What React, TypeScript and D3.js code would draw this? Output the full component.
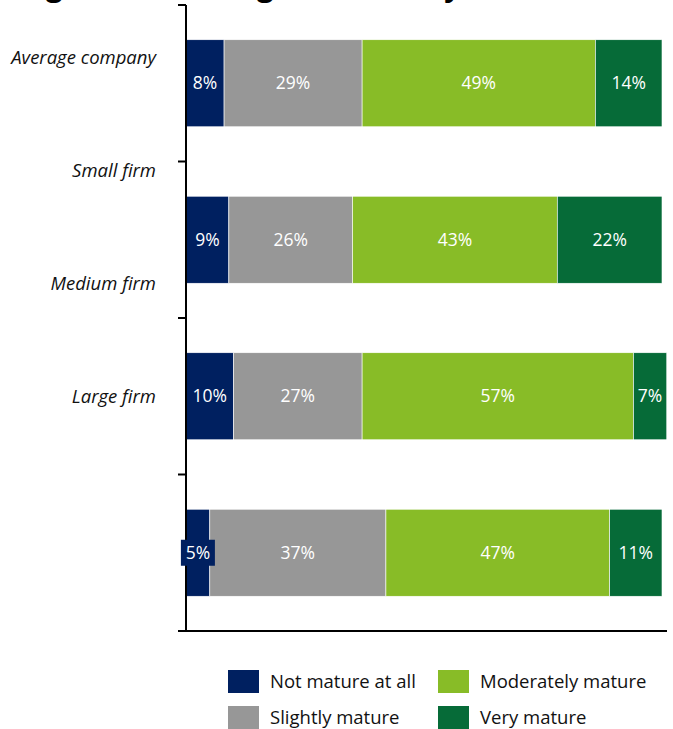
import React from "react";
import * as d3 from "d3";

const categories = ["Average company", "Small firm", "Medium firm", "Large firm"];
const seriesNames = ["Not mature at all", "Slightly mature", "Moderately mature", "Very mature"];
const seriesColors = ["#002060", "#979797", "#88BC27", "#066B38"];
const notMature = [8, 9, 10, 5];
const slightly = [29, 26, 27, 37];
const moderately = [49, 43, 57, 47];
const very = [14, 22, 7, 11];
const title = "Organisations\u2019 digital maturity";

const W = 673;
const H = 729;
const FONT = "'Open Sans', 'Segoe UI', sans-serif";

export default function App() {
  const series = [notMature, slightly, moderately, very];
  const rows = categories.map((c, i) => {
    const o: any = { cat: c };
    seriesNames.forEach((s, k) => (o[s] = series[k][i]));
    return o;
  });
  const stacked = d3.stack<any>().keys(seriesNames)(rows);

  const x = d3.scaleLinear().domain([0, 100]).range([186, 662]);
  const y = d3.scaleBand<string>().domain(categories).range([5, 631]).paddingInner(0.444).paddingOuter(0.222);
  const bandStep = (631 - 5) / categories.length;
  // category labels (as placed in the original, offset from the bars)
  const yLab = d3.scalePoint<string>().domain(categories).range([58, 397]);
  const tickYs = d3.range(categories.length + 1).map((i) => 5 + i * bandStep);

  return (
    <svg width={W} height={H} style={{ position: "absolute", left: 0, top: 0, background: "#fff" }} fontFamily={FONT}>
      <text x={9} y={-4} fontSize={29.5} fontWeight="bold" fill="#000">{title}</text>

      {stacked.map((s, k) => (
        <g key={s.key}>
          {s.map((d, i) => (
            <rect key={i} x={x(d[0])} y={y(categories[i])!} width={x(d[1]) - x(d[0])} height={y.bandwidth()}
              fill={seriesColors[k]} stroke="#fff" strokeWidth={0.6} />
          ))}
        </g>
      ))}

      {/* axes */}
      <line x1={186} x2={186} y1={5} y2={631} stroke="#000" strokeWidth={2} />
      <line x1={185} x2={667} y1={631} y2={631} stroke="#000" strokeWidth={2} />
      {tickYs.map((t, i) => (
        <line key={i} x1={178} x2={186} y1={t} y2={t} stroke="#000" strokeWidth={2} />
      ))}

      {stacked.map((s, k) => (
        <g key={"l" + s.key}>
          {s.map((d, i) => {
            const cx = (x(d[0]) + x(d[1])) / 2;
            const cy = y(categories[i])! + y.bandwidth() / 2;
            const label = `${d[1] - d[0]}%`;
            const bw = label.length * 10 + 14;
            const segW = x(d[1]) - x(d[0]);
            return (
              <g key={i}>
                {segW + 4 < bw && (
                  <rect x={cx - bw / 2} y={cy - 13} width={bw} height={26} fill={seriesColors[k]} />
                )}
                <text x={cx} y={cy} dy="0.35em" textAnchor="middle" fontSize={17.5} fill="#fff">{label}</text>
              </g>
            );
          })}
        </g>
      ))}

      {categories.map((c) => (
        <text key={c} x={156} y={yLab(c)} dy="0.35em" textAnchor="end" fontSize={18.5} fontStyle="italic" fill="#111">{c}</text>
      ))}

      {/* legend */}
      {seriesNames.map((s, k) => {
        const col = k === 0 || k === 1 ? 0 : 1;
        const row = k === 0 || k === 2 ? 0 : 1;
        const lx = col === 0 ? 228 : 438;
        const ly = row === 0 ? 670 : 706;
        return (
          <g key={s}>
            <rect x={lx} y={ly} width={31} height={23} fill={seriesColors[k]} />
            <text x={lx + 42} y={ly + 12} dy="0.35em" fontSize={18.5} fill="#111">{s}</text>
          </g>
        );
      })}
    </svg>
  );
}
